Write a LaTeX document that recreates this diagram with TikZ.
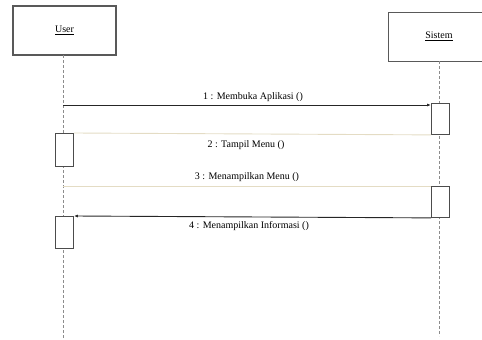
\documentclass[tikz,border=0pt]{standalone}
\usepackage{fontspec}
\setmainfont{Liberation Serif}
\usetikzlibrary{arrows.meta}
\definecolor{retcol}{RGB}{228,220,196}
\begin{document}
\begin{tikzpicture}[x=1pt,y=-1pt,
  objbox/.style={draw=black!65,line width=1.1pt,inner sep=0pt,font=\fontsize{10}{12}\selectfont},
  actbox/.style={draw=black!70,line width=0.9pt,fill=white,inner sep=0pt,minimum width=18pt},
  life/.style={draw=black!45,densely dashed,line width=0.8pt},
  msg/.style={draw=black!85,line width=0.9pt,-{Latex[length=4pt,width=3pt]}},
  ret/.style={draw=retcol,line width=0.9pt},
  lbl/.style={font=\fontsize{10}{12}\selectfont,inner sep=0pt}]
\useasboundingbox (0,0) rectangle (482,340);
% objects
\node[objbox,minimum width=103pt,minimum height=49pt] (user) at (64.5,30.5) {\underline{User}};
\node[objbox,minimum width=97pt,minimum height=49pt,anchor=north west] (sis) at (388,12) {};
\node[lbl] (sistxt) at (439,36) {\underline{Sistem}};
% lifelines
\coordinate (uend) at (63,340);
\coordinate (send) at (439,336);
\draw[life] (63,55) -- (uend);
\draw[life] (439,61) -- (send);
% activation boxes
\node[actbox,minimum height=31pt,anchor=north west] (sa1) at (431,103) {};
\node[actbox,minimum height=33pt,anchor=north west] (ua1) at (55,133) {};
\node[actbox,minimum height=31pt,anchor=north west] (sa2) at (431,186) {};
\node[actbox,minimum height=32pt,anchor=north west] (ua2) at (55,216) {};
% messages
\coordinate (m1s) at (63,105);
\draw[msg] (m1s) -- (sa1.west |- m1s);
\node[lbl] (l1) at (253,97) {1 : Membuka Aplikasi ()};
\draw[ret] (sa1.south west) -- (ua1.north east);
\node[lbl] (l2) at (246,145) {2 : Tampil Menu ()};
\coordinate (m3s) at (63,186);
\draw[ret] (m3s) -- (sa2.north west);
\node[lbl] (l3) at (247,177) {3 : Menampilkan Menu ()};
\draw[msg] (sa2.south west) -- (ua2.north east);
\node[lbl] (l4) at (249,226) {4 : Menampilkan Informasi ()};
\end{tikzpicture}
\end{document}
